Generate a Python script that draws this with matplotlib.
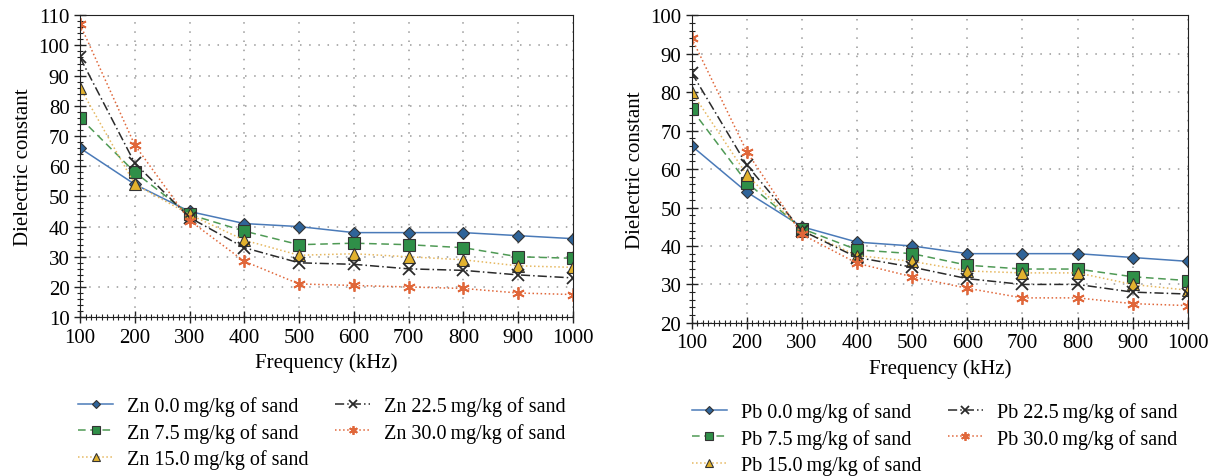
import matplotlib.pyplot as plt
from matplotlib.ticker import MultipleLocator

plt.rcParams['font.family'] = ['Liberation Serif', 'DejaVu Serif']

freq = [100, 200, 300, 400, 500, 600, 700, 800, 900, 1000]
levels = ['0.0', '7.5', '15.0', '22.5', '30.0']

zn = [
    [66, 54, 45, 41, 40, 38, 38, 38, 37, 36],
    [76, 58, 44, 38.5, 34, 34.5, 34, 33, 30, 29.5],
    [86, 54, 44, 35.5, 30.5, 31, 30, 29, 27, 26.5],
    [96, 61, 43, 33, 28, 27.5, 26, 25.5, 24, 23],
    [107, 67, 42, 28.5, 21, 20.5, 20, 19.5, 18, 17.5],
]
pb = [
    [66, 54, 45, 41, 40, 38, 38, 38, 37, 36],
    [75.5, 56.5, 44.5, 39, 38, 35, 34, 34, 32, 31],
    [80, 58.5, 44, 37.5, 36, 33.5, 33, 33, 30, 28.5],
    [85, 61, 44, 37, 34.5, 31.5, 30, 30, 28, 27.5],
    [94, 64.5, 43, 35.5, 32, 29, 26.5, 26.5, 25, 24.5],
]

# line colour, line style, marker, marker face, marker size
styles = [
    ('#4a7ab8', '-', 'D', '#2f6499', 6.5),
    ('#4f9a55', (0, (5, 3)), 's', '#2f8f48', 8),
    ('#e6b860', ':', '^', '#e2b22e', 8),
    ('#2a2a2a', (0, (6, 2, 1, 2)), 'x', 'none', 8),
    ('#e0673a', ':', (6, 2, 0), 'none', 9),
]


def draw(ax, data, metal, ylim, leg_x, leg_y):
    for vals, lev, st in zip(data, levels, styles):
        col, ls, mk, face, ms = st
        if face == 'none':
            ax.plot(freq, vals, color=col, ls=ls, lw=1.1, marker=mk, ms=ms,
                    mec=col, mew=1.3, label=f'{metal} {lev}\u2009mg/kg of sand')
        else:
            ax.plot(freq, vals, color=col, ls=ls, lw=1.1, marker=mk, ms=ms,
                    mfc=face, mec='#333333', mew=0.8,
                    label=f'{metal} {lev}\u2009mg/kg of sand')
    ax.set_xlim(100, 1000)
    ax.set_ylim(*ylim)
    ax.xaxis.set_major_locator(MultipleLocator(100))
    ax.xaxis.set_minor_locator(MultipleLocator(10))
    ax.yaxis.set_major_locator(MultipleLocator(10))
    ax.yaxis.set_minor_locator(MultipleLocator(2))
    ax.tick_params(which='major', direction='inout', length=8, width=1,
                   labelsize=15, color='#222222')
    ax.tick_params(which='minor', direction='inout', length=4, width=0.8,
                   color='#222222')
    ax.grid(True, which='major', ls=(0, (1, 5)), color='#999999', lw=1.1)
    for s in ax.spines.values():
        s.set_color('#222222')
    ax.set_xlabel('Frequency (kHz)', fontsize=15)
    ax.set_ylabel('Dielectric constant', fontsize=15)
    ax.legend(loc='upper left', bbox_to_anchor=(leg_x, leg_y), ncol=2,
              frameon=False, fontsize=14.5, handlelength=1.75, markerscale=0.7,
              columnspacing=1.3, labelspacing=0.35, handletextpad=0.7,
              borderpad=0, borderaxespad=0)


fig = plt.figure(figsize=(12.2, 4.77), dpi=100)
ax1 = fig.add_axes([0.0656, 0.333, 0.404, 0.633])
ax2 = fig.add_axes([0.567, 0.321, 0.4066, 0.645])

draw(ax1, zn, 'Zn', (10, 110), -0.004, -0.26)
draw(ax2, pb, 'Pb', (20, 100), 0.0, -0.256)

fig.savefig('out.png', dpi=100)
